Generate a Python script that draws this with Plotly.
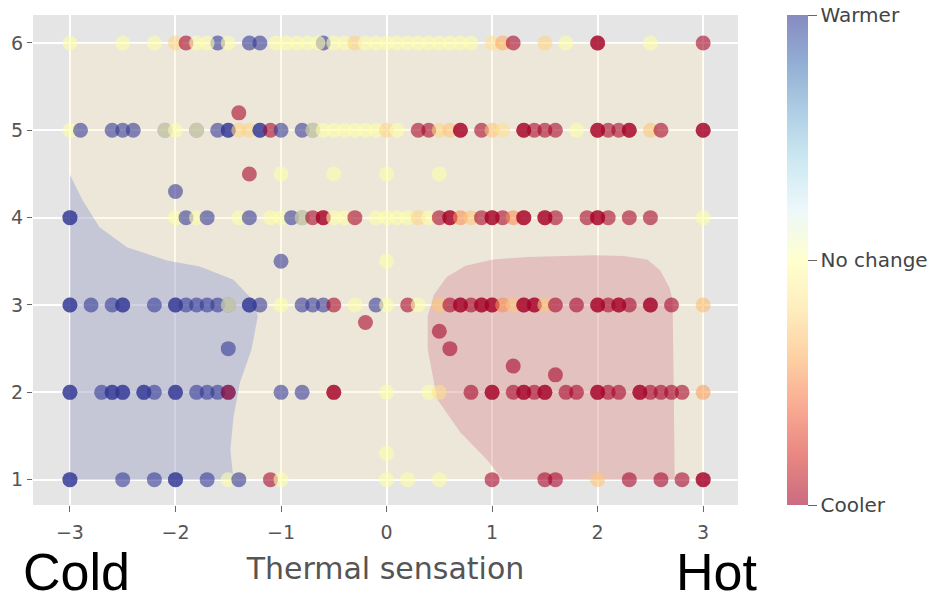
import plotly.graph_objects as go

# ---------------- data ----------------
# preference value: 1 = warmer, 0 = no change, -1 = cooler (intermediate = blended shades)
row6_x = [-3.0, -2.5, -2.2, -2.0, -1.9, -1.8, -1.6, -1.7, -1.5, -1.3, -1.2, -1.05, -0.95, -0.85, -0.75,
          -0.6, -0.65, -0.5, -0.4, -0.3, -0.2, -0.1, 0.0, 0.1, 0.2, 0.3, 0.4, 0.5, 0.6, 0.7, 0.8,
          1.0, 1.1, 1.2, 1.5, 1.7, 2.0, 2.0, 2.5, 3.0]
row6_v = [0, 0, 0, -0.25, -1, 0, 1, 0, 0, 1, 1, 0, 0, 0, 0,
          1, 0, 0, 0, -0.25, 0, 0, 0, 0, 0, 0, 0, 0, 0, 0, 0,
          -0.2, -0.4, -1, -0.25, 0, -1, -1, 0, -1]

row5_x = [-3.0, -2.9, -2.6, -2.5, -2.4, -2.1, -2.1, -2.0, -1.8, -1.8, -1.6, -1.5, -1.5, -1.4, -1.3,
          -1.2, -1.2, -1.1, -1.0, -0.8, -0.7, -0.7, -0.6, -0.5, -0.4, -0.3, -0.2, -0.1, 0.0, 0.1,
          0.3, 0.4, 0.5, 0.6, 0.7, 0.7, 0.9, 1.0, 1.1, 1.3, 1.3, 1.4, 1.5, 1.6, 1.8,
          2.0, 2.0, 2.1, 2.2, 2.3, 2.3, 2.5, 2.6, 3.0, 3.0]
row5_v = [0, 1, 1, 1, 1, 1, 0, 0, 1, 0, 1, 1, 1, -0.25, -0.25,
          1, 1, -1, 1, 1, 1, 0, 0, 0, 0, 0, 0, 0, -0.25, 0,
          -1, -1, -0.25, -0.3, -1, -1, -1, -0.3, -0.2, -1, -1, -1, -1, -1, 0,
          -1, -1, -1, -1, -1, -1, -0.3, -1, -1, -1]

row4_x = [-3.0, -3.0, -2.0, -1.9, -1.8, -1.7, -1.4, -1.3, -1.1, -1.0, -0.9, -0.8, -0.8, -0.7,
          -0.6, -0.6, -0.5, -0.4, -0.3, -0.1, 0.0, 0.1, 0.2, 0.3, 0.4, 0.5, 0.6, 0.6, 0.7, 0.8,
          0.9, 1.0, 1.0, 1.1, 1.2, 1.3, 1.3, 1.5, 1.5, 1.6, 1.9, 2.0, 2.0, 2.1, 2.3, 2.5, 3.0]
row4_v = [1, 1, 0, 1, 0, 1, 0, 1, 0, 0, 1, 1, 0, -1,
          -1, -1, 0, 0, -1, 0, 0, 0, 0, -0.25, 0, -1, -1, -1, -0.5, -0.3,
          -1, -1, -1, -1, -0.5, -1, -1, -1, -1, -1, -1, -1, -1, -1, -1, -1, 0]

row3_x = [-3.0, -3.0, -2.8, -2.6, -2.5, -2.5, -2.2, -2.0, -2.0, -1.9, -1.8, -1.7, -1.6, -1.5, -1.5,
          -1.3, -1.3, -1.2, -1.0, -0.8, -0.7, -0.6, -0.5, -0.3, -0.1, 0.0, 0.2, 0.3, 0.5, 0.6,
          0.7, 0.7, 0.8, 0.9, 0.9, 1.0, 1.0, 1.1, 1.2, 1.3, 1.3, 1.4, 1.4, 1.5, 1.6, 1.8,
          2.0, 2.0, 2.1, 2.2, 2.2, 2.3, 2.5, 2.5, 2.7, 3.0]
row3_v = [1, 1, 1, 1, 1, 1, 1, 1, 1, 1, 1, 1, 1, 1, 0,
          1, 1, 1, 0, 1, 1, 1, -1, 0, 1, 0, -1, 0, -0.3, -1,
          -1, -1, -1, -1, -1, -1, -1, -0.5, -0.3, -1, -1, -1, -1, -0.3, -1, -1,
          -1, -1, -1, -1, -1, -1, -1, -1, -1, -0.35]

row2_x = [-3.0, -3.0, -2.7, -2.6, -2.6, -2.5, -2.5, -2.3, -2.3, -2.2, -2.0, -2.0, -1.8, -1.7, -1.6,
          -1.5, -1.5, -1.0, -0.8, -0.5, -0.5, 0.0, 0.4, 0.5, 0.8, 1.0, 1.0, 1.2, 1.3, 1.3, 1.4,
          1.5, 1.5, 1.7, 1.8, 2.0, 2.0, 2.1, 2.2, 2.4, 2.4, 2.5, 2.6, 2.7, 2.8, 3.0]
row2_v = [1, 1, 1, 1, 1, 1, 1, 1, 1, 1, 1, 1, 1, 1, 1,
          1, -1, 1, 1, -1, -1, 0, 0, -0.2, -1, -1, -1, -1, -1, -1, -1,
          -1, -1, -1, -1, -1, -1, -1, -1, -1, -1, -1, -1, -1, -1, -0.45]

row1_x = [-3.0, -3.0, -2.5, -2.2, -2.0, -2.0, -1.7, -1.5, -1.4, -1.1, -1.0, 0.0, 0.2, 0.5,
          1.0, 1.5, 1.6, 2.0, 2.3, 2.6, 2.8, 3.0, 3.0]
row1_v = [1, 1, 1, 1, 1, 1, 1, 0, 1, -1, 0, 0, 0, 0,
          -1, -1, -1, -0.3, -1, -1, -1, -1, -1]

extra_x = [-1.4, -1.3, -1.0, -0.5, 0.0, 0.5, -2.0, -1.0, 0.0, -0.2, 0.5, -1.5, 0.6, 1.2, 1.6, 0.0]
extra_y = [5.2, 4.5, 4.5, 4.5, 4.5, 4.5, 4.3, 3.5, 3.5, 2.8, 2.7, 2.5, 2.5, 2.3, 2.2, 1.3]
extra_v = [-1, -1, 0, 0, 0, 0, 1, 1, 0, -1, -1, 1, -1, -1, -1, 0]

# decision regions
region_mid_x = [-3, 3, 3, -3, -3]
region_mid_y = [1, 1, 6, 6, 1]
region_warm_x = [-3.0, -3.0, -2.88, -2.72, -2.46, -2.08, -1.77, -1.45, -1.27, -1.22, -1.28, -1.39,
                 -1.45, -1.48, -1.45, -3.0]
region_warm_y = [1.0, 4.49, 4.2, 3.89, 3.66, 3.51, 3.44, 3.29, 3.06, 2.87, 2.49, 2.11,
                 1.72, 1.34, 1.0, 1.0]
region_cool_x = [1.10, 0.95, 0.70, 0.48, 0.39, 0.39, 0.45, 0.57, 0.75, 1.01, 1.33, 1.96, 2.25,
                 2.47, 2.59, 2.68, 2.71, 2.72, 2.73, 1.10]
region_cool_y = [1.0, 1.23, 1.54, 1.92, 2.49, 2.87, 3.12, 3.32, 3.45, 3.52, 3.55, 3.57, 3.56,
                 3.52, 3.40, 3.2, 3.06, 2.11, 1.0, 1.0]

x_ticks = [-3, -2, -1, 0, 1, 2, 3]
x_tick_text = ["\u22123", "\u22122", "\u22121", "0", "1", "2", "3"]
y_ticks = [1, 2, 3, 4, 5, 6]
cbar_vals = [-1, 0, 1]
cbar_text = ["Cooler", "No change", "Warmer"]

# -------------- assemble --------------
rows = [(6, row6_x, row6_v), (5, row5_x, row5_v), (4, row4_x, row4_v),
        (3, row3_x, row3_v), (2, row2_x, row2_v), (1, row1_x, row1_v)]
px, py, pv = [], [], []
for yv, xs, vs in rows:
    px += xs
    py += [yv] * len(xs)
    pv += vs
px += extra_x
py += extra_y
pv += extra_v

A = 0.58
rdylbu = ["165,0,38", "215,48,39", "244,109,67", "253,174,97", "254,224,144", "255,255,170",
          "224,243,248", "171,217,233", "116,173,209", "69,117,180", "49,54,149"]
cscale = [[i / 10, f"rgba({c},{A})"] for i, c in enumerate(rdylbu)]

fig = go.Figure()
fig.add_trace(go.Scatter(x=region_mid_x, y=region_mid_y, fill="toself", mode="none",
                         fillcolor="rgba(255,235,190,0.30)", hoverinfo="skip", showlegend=False))
fig.add_trace(go.Scatter(x=region_warm_x, y=region_warm_y, fill="toself", mode="none",
                         fillcolor="rgba(115,135,210,0.33)", hoverinfo="skip", showlegend=False))
fig.add_trace(go.Scatter(x=region_cool_x, y=region_cool_y, fill="toself", mode="none",
                         fillcolor="rgba(205,100,125,0.29)", hoverinfo="skip", showlegend=False))

fig.add_trace(go.Scatter(
    x=px, y=py, mode="markers", showlegend=False,
    marker=dict(size=15, color=pv, colorscale=cscale, cmin=-1, cmax=1, line=dict(width=0),
                colorbar=dict(tickvals=cbar_vals, ticktext=cbar_text, ticks="outside", ticklen=9,
                              tickcolor="#666666", tickfont=dict(family="DejaVu Sans", size=20, color="#444444"),
                              thickness=21, len=490, lenmode="pixels", x=1.0695, xanchor="left",
                              y=0.5, yanchor="middle", outlinewidth=0, xpad=0, ypad=0))))

fig.update_layout(
    width=949, height=603, margin=dict(l=33, r=211, t=15, b=98),
    paper_bgcolor="white", plot_bgcolor="#E5E5E5",
    font=dict(family="DejaVu Sans", color="#555555"),
    xaxis=dict(range=[-3.35, 3.33], tickvals=x_ticks, ticktext=x_tick_text, showgrid=True,
               gridcolor="white", gridwidth=1.5, zeroline=False, ticks="outside", ticklen=6,
               tickcolor="#666666", tickfont=dict(size=19, color="#555555"), ticklabelstandoff=4,
               title=dict(text="Thermal sensation", font=dict(size=30, color="#555555"), standoff=16)),
    yaxis=dict(range=[0.71, 6.32], tickvals=y_ticks, showgrid=True, gridcolor="white", gridwidth=1.5,
               zeroline=False, ticks="outside", ticklen=5, tickcolor="#666666",
               tickfont=dict(size=19, color="#555555")),
)
fig.add_annotation(text="Cold", x=0.061, y=-0.2, xref="paper", yref="paper", showarrow=False,
                   font=dict(family="Liberation Sans", size=52, color="black"), xanchor="center", yanchor="bottom")
fig.add_annotation(text="Hot", x=0.969, y=-0.2, xref="paper", yref="paper", showarrow=False,
                   font=dict(family="Liberation Sans", size=52, color="black"), xanchor="center", yanchor="bottom")

fig.write_html("out.html")
